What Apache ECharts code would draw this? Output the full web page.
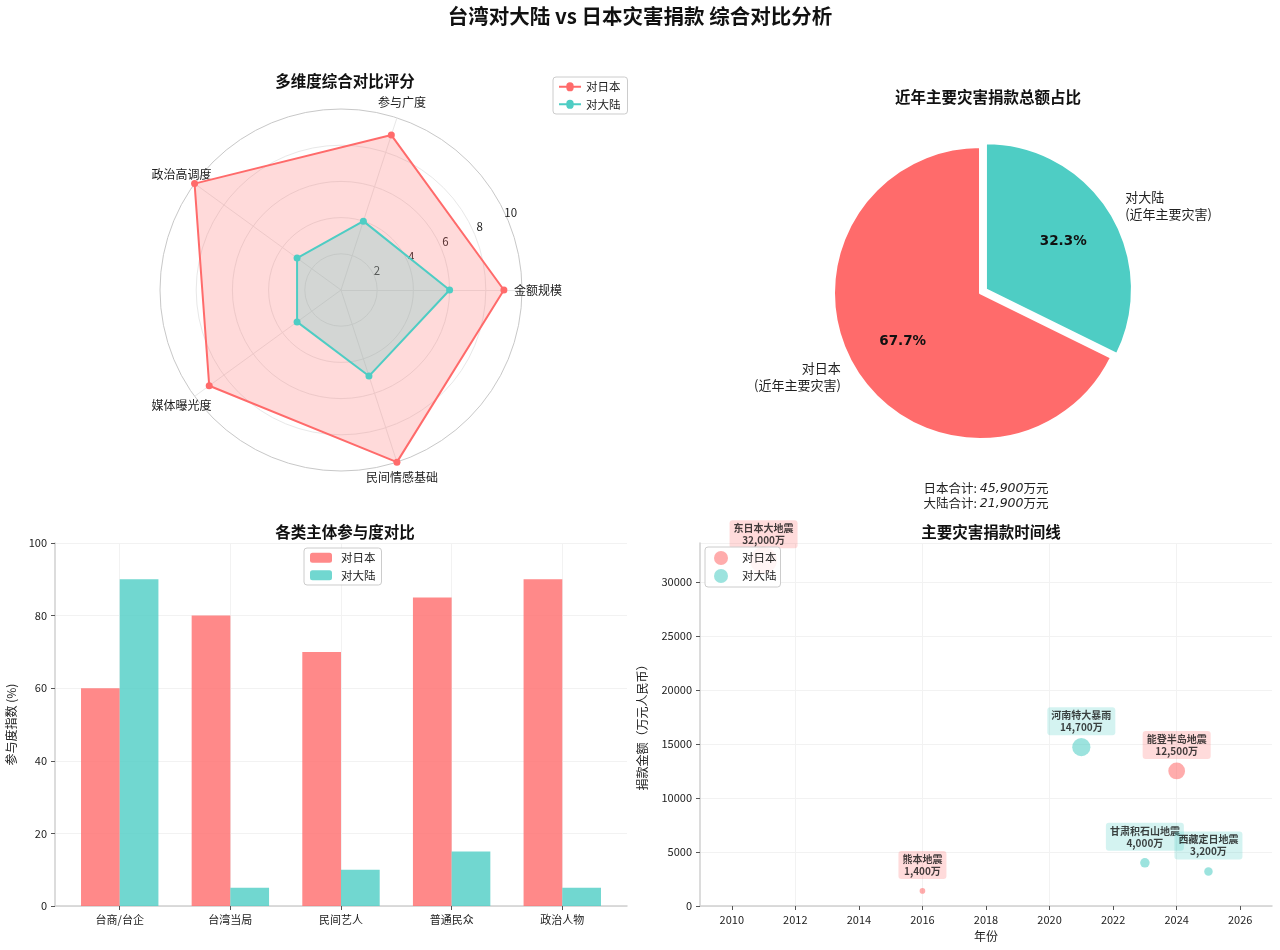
<!DOCTYPE html>
<html>
<head>
<meta charset="utf-8">
<title>台湾对大陆 vs 日本灾害捐款 综合对比分析</title>
<script src="https://cdn.jsdelivr.net/npm/echarts@6/dist/echarts.min.js"></script>
<style>
    html, body { margin: 0; padding: 0; background: #fff; }
    #main { width: 1280px; height: 950px; }
</style>
</head>
<body>
<div id="main"></div>
<script>
'use strict';

// radar
var radarDims = ['金额规模', '参与广度', '政治高调度', '媒体曝光度', '民间情感基础'];
var radarJapan = [9, 9, 10, 9, 10];
var radarMainland = [6, 4, 3, 3, 5];

// pie (万元)
var pieNames = ['对日本\n(近年主要灾害)', '对大陆\n(近年主要灾害)'];
var pieTotals = [45900, 21900];

// bars
var barCats = ['台商/台企', '台湾当局', '民间艺人', '普通民众', '政治人物'];
var barJapan = [60, 80, 70, 85, 90];
var barMainland = [90, 5, 10, 15, 5];

// timeline: [name, year, amount(万元)]
var japanEvents = [
    ['东日本大地震', 2011, 32000],
    ['熊本地震', 2016, 1400],
    ['能登半岛地震', 2024, 12500]
];
var mainlandEvents = [
    ['河南特大暴雨', 2021, 14700],
    ['甘肃积石山地震', 2023, 4000],
    ['西藏定日地震', 2025, 3200]
];
var yearTicks = [2010, 2012, 2014, 2016, 2018, 2020, 2022, 2024, 2026];

var RED = '#FF6B6B';
var TEAL = '#4ECDC4';
var FONT = '"Noto Sans CJK SC", "DejaVu Sans", sans-serif';
var TXT = '#222';

function fmt(n) {
    return String(n).replace(/\B(?=(\d{3})+(?!\d))/g, ',');
}

// legend icon: line with a dot in the middle
var lineDot = 'path://M0 9h8a4 4 0 0 1 8 0h8v2h-8a4 4 0 0 1-8 0h-8z';

function eventSeries(name, events, fill, labelBg) {
    return {
        name: name,
        type: 'scatter',
        xAxisIndex: 1,
        yAxisIndex: 1,
        data: events.map(function (e) { return { name: e[0], value: [e[1], e[2]] }; }),
        symbolSize: function (v) { return Math.sqrt(v[1]) * 0.15; },
        itemStyle: { color: fill },
        label: {
            show: true,
            position: 'inside',
            offset: [0, -26],
            formatter: function (p) { return p.name + '\n' + fmt(p.value[1]) + '万'; },
            fontFamily: FONT,
            fontSize: 10,
            fontWeight: 'bold',
            lineHeight: 12,
            color: '#111',
            backgroundColor: labelBg,
            padding: [2, 4],
            borderRadius: 3
        },
        emphasis: { disabled: true },
        z: 3
    };
}

var totalsText = '{l|日本合计: }{v|' + fmt(pieTotals[0]) + '}{l|万元}\n' +
                 '{l|大陆合计: }{v|' + fmt(pieTotals[1]) + '}{l|万元}';

var chart = echarts.init(document.getElementById('main'));

var axisLbl = { color: TXT, fontFamily: FONT, fontSize: 11 };
var axisLineStyle = { color: '#d0d0d0', width: 1.5 };
var tickStyle = { color: '#555' };
var plain = function (v) { return String(v); };

chart.setOption({
    backgroundColor: '#fff',
    textStyle: { fontFamily: FONT },
    title: [
        { text: '台湾对大陆 vs 日本灾害捐款 综合对比分析', left: 'center', top: 1,
          textStyle: { fontSize: 20.5, fontWeight: 'bold', color: '#111' } },
        { text: '多维度综合对比评分', left: 340, top: 68, textAlign: 'center',
          textStyle: { fontSize: 15.5, fontWeight: 'bold', color: '#111' } },
        { text: '近年主要灾害捐款总额占比', left: 983, top: 84, textAlign: 'center',
          textStyle: { fontSize: 15.5, fontWeight: 'bold', color: '#111' } },
        { text: '各类主体参与度对比', left: 340, top: 519, textAlign: 'center',
          textStyle: { fontSize: 15.5, fontWeight: 'bold', color: '#111' } },
        { text: '主要灾害捐款时间线', left: 986, top: 519, textAlign: 'center',
          textStyle: { fontSize: 15.5, fontWeight: 'bold', color: '#111' } }
    ],
    legend: [
        {
            data: ['对日本', '对大陆'].map(function (n) { return { name: n, icon: lineDot }; }),
            left: 553, top: 77, orient: 'vertical',
            itemWidth: 22, itemHeight: 10, itemGap: 6,
            padding: [4, 7, 4, 6], borderColor: '#ccc', borderWidth: 1, borderRadius: 3,
            textStyle: { fontSize: 11.5, color: TXT }
        },
        {
            data: ['对日本 ', '对大陆 '],
            left: 304, top: 548, orient: 'vertical',
            itemWidth: 22, itemHeight: 10, itemGap: 6,
            padding: [4, 6], borderColor: '#ccc', borderWidth: 1, borderRadius: 3,
            backgroundColor: 'rgba(255,255,255,0.8)',
            textStyle: { fontSize: 11.5, color: TXT, padding: [0, 0, 0, 4] },
            formatter: function (n) { return n.trim(); }
        },
        {
            data: ['对日本  ', '对大陆  '],
            left: 705, top: 547, orient: 'vertical',
            icon: 'circle', itemWidth: 14, itemHeight: 14, itemGap: 4,
            padding: [4, 4, 4, 9], borderColor: '#ccc', borderWidth: 1, borderRadius: 3,
            backgroundColor: 'rgba(255,255,255,0.88)',
            textStyle: { fontSize: 11.5, color: TXT, padding: [0, 0, 0, 9] },
            formatter: function (n) { return n.trim(); },
            z: 10
        }
    ],
    radar: {
        center: [341, 290],
        radius: 181,
        startAngle: 0,
        shape: 'circle',
        splitNumber: 5,
        indicator: radarDims.map(function (d) { return { name: d, max: 10, min: 0 }; }),
        axisName: { color: TXT, fontSize: 12, fontFamily: FONT, align: 'center', verticalAlign: 'middle' },
        nameGap: 16,
        splitArea: { show: false },
        splitLine: { lineStyle: { color: ['#e8e8e8', '#e8e8e8', '#e8e8e8', '#e8e8e8', '#e8e8e8', '#c8c8c8'], width: 1 } },
        axisLine: { lineStyle: { color: '#e8e8e8' } }
    },
    // only carries the 2..10 ring labels, at 22.5° like the reference
    polar: { center: [347, 288], radius: 186 },
    angleAxis: {
        type: 'value', min: 0, max: 360, startAngle: 23,
        axisLine: { show: false }, axisTick: { show: false },
        axisLabel: { show: false }, splitLine: { show: false }
    },
    radiusAxis: {
        type: 'value', min: 0, max: 10, interval: 2,
        axisLine: { show: false }, axisTick: { show: false }, splitLine: { show: false },
        axisLabel: { color: TXT, fontSize: 11.5, showMinLabel: false, margin: 3 }
    },
    grid: [
        { left: 55, right: 653, top: 543, bottom: 44 },
        { left: 700, right: 8, top: 543, bottom: 44 }
    ],
    xAxis: [
        {
            gridIndex: 0, type: 'value', min: -0.585, max: 4.585,
            axisLine: { show: true, onZero: false, lineStyle: axisLineStyle },
            axisTick: { show: true, length: 4, lineStyle: tickStyle,
                        customValues: barCats.map(function (c, i) { return i; }) },
            axisLabel: {
                color: TXT, fontFamily: FONT, fontSize: 11,
                customValues: barCats.map(function (c, i) { return i; }),
                formatter: function (v) { return barCats[Math.round(v)] || ''; }
            },
            splitLine: { show: true, lineStyle: { color: '#f2f2f2' } }
        },
        {
            gridIndex: 1, type: 'value', min: 2009, max: 2027, interval: 1,
            name: '年份', nameLocation: 'middle', nameGap: 24,
            nameTextStyle: { fontSize: 12, color: TXT },
            axisLine: { show: true, onZero: false, lineStyle: axisLineStyle },
            axisTick: { show: true, length: 4, lineStyle: tickStyle, customValues: yearTicks },
            axisLabel: { color: TXT, fontSize: 11, customValues: yearTicks, formatter: plain },
            splitLine: { show: true, lineStyle: { color: ['transparent', '#f2f2f2'] } }
        }
    ],
    yAxis: [
        {
            gridIndex: 0, type: 'value', min: 0, max: 100, interval: 20,
            name: '参与度指数 (%)', nameLocation: 'middle', nameGap: 38,
            nameTextStyle: { fontSize: 12, color: TXT },
            axisLine: { show: true, onZero: false, lineStyle: axisLineStyle },
            axisTick: { show: true, length: 4, lineStyle: tickStyle },
            axisLabel: axisLbl,
            splitLine: { lineStyle: { color: '#f2f2f2' } }
        },
        {
            gridIndex: 1, type: 'value', min: 0, max: 33600, interval: 5000,
            name: '捐款金额（万元人民币）', nameLocation: 'middle', nameGap: 52,
            nameTextStyle: { fontSize: 12, color: TXT },
            axisLine: { show: true, onZero: false, lineStyle: axisLineStyle },
            axisTick: { show: true, length: 4, lineStyle: tickStyle },
            axisLabel: { color: TXT, fontSize: 11, showMaxLabel: false, formatter: plain },
            splitLine: { lineStyle: { color: '#f2f2f2' } }
        }
    ],
    graphic: [{
        type: 'text',
        x: 986, y: 481,
        style: {
            text: totalsText,
            align: 'center',
            fill: TXT,
            font: '12.5px ' + FONT,
            lineHeight: 15,
            rich: {
                l: { fontSize: 12.5, fontFamily: FONT, lineHeight: 15, fill: TXT },
                v: { fontSize: 12.5, fontStyle: 'italic', fontFamily: '"DejaVu Sans"', lineHeight: 15, fill: TXT }
            }
        }
    }],
    series: [
        {
            name: 'radar',
            type: 'radar',
            symbol: 'circle',
            symbolSize: 7,
            data: [
                { name: '对日本', value: radarJapan,
                  itemStyle: { color: RED }, lineStyle: { color: RED, width: 2 },
                  areaStyle: { color: RED, opacity: 0.25 } },
                { name: '对大陆', value: radarMainland,
                  itemStyle: { color: TEAL }, lineStyle: { color: TEAL, width: 2 },
                  areaStyle: { color: TEAL, opacity: 0.25 } }
            ],
            z: 3
        },
        {
            type: 'pie',
            center: [980, 293],
            radius: [0, 146],
            startAngle: 90,
            clockwise: false,
            selectedMode: 'multiple',
            selectedOffset: 7,
            percentPrecision: 1,
            avoidLabelOverlap: false,
            data: [
                { name: pieNames[0], value: pieTotals[0], itemStyle: { color: RED } },
                { name: pieNames[1], value: pieTotals[1], itemStyle: { color: TEAL }, selected: true }
            ],
            itemStyle: { borderColor: '#fff', borderWidth: 2 },
            label: {
                show: true, position: 'outside', color: TXT, fontSize: 13,
                lineHeight: 17, formatter: '{b}'
            },
            labelLine: { show: false, length: 12, length2: 0 },
            emphasis: { disabled: true }
        },
        {
            // transparent copy that only places the percentages at 0.6 r
            type: 'pie',
            center: [980, 293],
            radius: [0, 176],
            startAngle: 90,
            clockwise: false,
            selectedMode: 'multiple',
            selectedOffset: 7,
            percentPrecision: 1,
            silent: true,
            data: [
                { name: pieNames[0], value: pieTotals[0] },
                { name: pieNames[1], value: pieTotals[1], selected: true }
            ],
            itemStyle: { color: 'rgba(0,0,0,0)', borderWidth: 0 },
            label: {
                show: true, position: 'inside', color: '#111', fontSize: 13.5,
                fontFamily: '"DejaVu Sans"', fontWeight: 'bold', formatter: '{d}%'
            },
            labelLine: { show: false },
            z: 3
        },
        {
            name: '对日本 ', type: 'bar', xAxisIndex: 0, yAxisIndex: 0,
            data: barJapan.map(function (v, i) { return [i, v]; }),
            barWidth: 38.7, barGap: '0%',
            itemStyle: { color: 'rgba(255,107,107,0.8)' }
        },
        {
            name: '对大陆 ', type: 'bar', xAxisIndex: 0, yAxisIndex: 0,
            data: barMainland.map(function (v, i) { return [i, v]; }),
            barWidth: 38.7, barGap: '0%',
            itemStyle: { color: 'rgba(78,205,196,0.8)' }
        },
        eventSeries('对日本  ', japanEvents, 'rgba(255,107,107,0.7)', 'rgba(255,107,107,0.3)'),
        eventSeries('对大陆  ', mainlandEvents, 'rgba(78,205,196,0.7)', 'rgba(78,205,196,0.3)')
    ]
});
</script>
</body>
</html>
